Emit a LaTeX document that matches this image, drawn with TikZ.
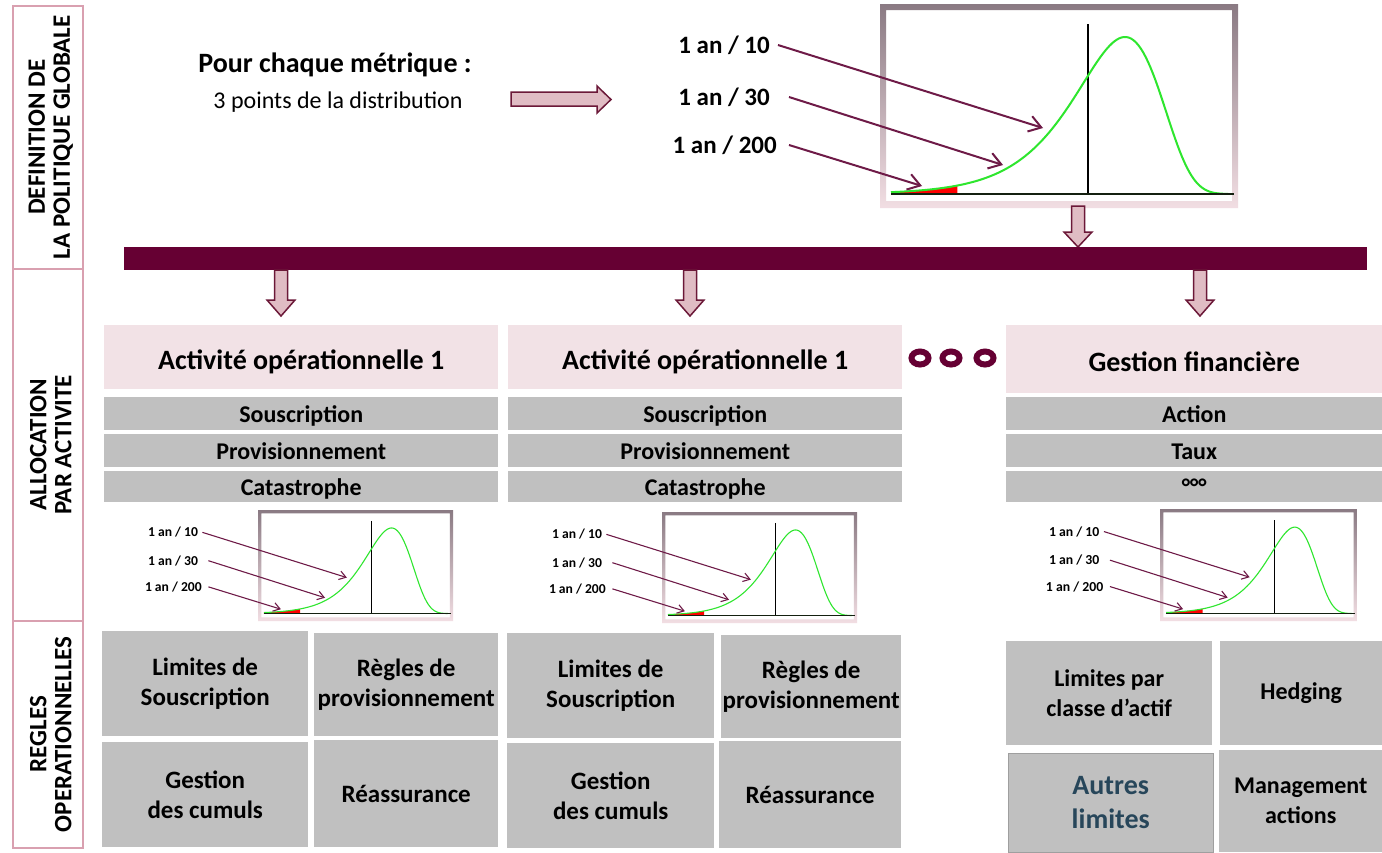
\documentclass[tikz,border=0pt]{standalone}
\usepackage{fontspec}
\setmainfont{Carlito}
\usetikzlibrary{arrows.meta}
\definecolor{maroon}{HTML}{660033}
\definecolor{arrowfill}{HTML}{E0BCC4}
\definecolor{arrowline}{HTML}{6B1838}
\definecolor{hdrfill}{HTML}{F2E2E6}
\definecolor{graybox}{HTML}{C0C0C0}
\definecolor{sideline}{HTML}{D9A0B0}
\definecolor{curvegreen}{HTML}{2EE62E}
\definecolor{frametop}{HTML}{8A7A83}
\definecolor{framebot}{HTML}{F2DEE3}
\definecolor{connline}{HTML}{6E1A47}
\definecolor{autres}{HTML}{27465A}
\definecolor{axiscol}{HTML}{142010}

\tikzset{
  blockarrow/.style={fill=arrowfill, draw=arrowline, line width=1.5pt, line join=miter},
  hdr/.style={fill=hdrfill, anchor=north west, inner sep=0, align=center, text height=24pt, text depth=0pt, font=\bfseries\fontsize{28}{33}\selectfont},
  rowbox/.style={fill=graybox, anchor=north west, inner sep=0, text height=19pt, text depth=1pt, font=\bfseries\fontsize{24}{28}\selectfont},
  rulebox/.style={fill=graybox, anchor=north west, inner sep=0, align=center, font=\bfseries\fontsize{25}{30}\selectfont},
  sidebox/.style={draw=sideline, line width=1.5pt, anchor=north west, inner sep=0},
  sidetext/.style={rotate=90, align=center, font=\bfseries\fontsize{25}{25}\selectfont},
  lab/.style={font=\bfseries\fontsize{25}{30}\selectfont, inner ysep=1, anchor=east},
  ring/.style={draw=maroon, line width=6pt},
}

\newcommand\distchart[4]{%
  \begin{scope}[shift={(#2,#3)}, scale=#4, transform shape]
    \shade[top color=frametop, bottom color=framebot, even odd rule]
      (0,0) rectangle (358,204) (6,6) rectangle (352,197);
    \fill[red] plot[domain=-5.442:-3.9, samples=25] ({245+43*\x},{190-157*exp(\x-exp(\x)+1)})
      -- (77.3,190) -- (11,190) -- cycle;
    \draw[black, line width=#4*1.8pt] (208,20) -- (208,190);
    \draw[curvegreen, line width=#4*2pt] plot[domain=-5.442:2.4, samples=140]
      ({245+43*\x},{190-157*exp(\x-exp(\x)+1)});
    \draw[axiscol, line width=#4*2.2pt] (11,190) -- (354,190);
    \node[lab, inner xsep=8] (#1a) at (-102,41) {1 an / 10};
    \node[lab, inner xsep=19] (#1b) at (-91,93) {1 an / 30};
    \node[lab, inner xsep=12] (#1c) at (-91,141) {1 an / 200};
    \coordinate (#1ta) at (163,124);
    \coordinate (#1tb) at (123,161);
    \coordinate (#1tc) at (42,182);
    \draw[connline, line width=#4*2pt, -{Straight Barb[length=12pt,width=16pt,scale=#4]}] (#1a.east) -- (#1ta);
    \draw[connline, line width=#4*2pt, -{Straight Barb[length=12pt,width=16pt,scale=#4]}] (#1b.east) -- (#1tb);
    \draw[connline, line width=#4*2pt, -{Straight Barb[length=12pt,width=16pt,scale=#4]}] (#1c.east) -- (#1tc);
  \end{scope}}

\newcommand\downblock[4]{% cx, ytop, yhead, ytip
  \filldraw[blockarrow] ({#1-6.5},#2) -- ({#1+6.5},#2) -- ({#1+6.5},#3) -- ({#1+14},#3)
    -- (#1,#4) -- ({#1-14},#3) -- ({#1-6.5},#3) -- cycle;}

\begin{document}
\begin{tikzpicture}[x=1pt, y=-1pt]
  \fill[white] (0,0) rectangle (1382,852);
  \useasboundingbox (0,0) rectangle (1382,852);

  % side column
  \node[sidebox, minimum width=70, minimum height=263] (s1) at (12,5) {};
  \node[sidebox, minimum width=70, minimum height=352] (s2) at (12,268) {};
  \node[sidebox, minimum width=70, minimum height=227] (s3) at (12,620) {};
  \node[sidetext] (t1) at ([xshift=3]s1.center) {DEFINITION DE\\LA POLITIQUE GLOBALE};
  \node[sidetext] (t2) at ([xshift=3]s2.center) {ALLOCATION\\PAR ACTIVITE};
  \node[sidetext] (t3) at ([xshift=3]s3.center) {REGLES\\OPERATIONNELLES};

  % top
  \node[font=\bfseries\fontsize{28}{33}\selectfont] (pour) at (335,65) {Pour chaque métrique :};
  \node[font=\fontsize{24}{28}\selectfont] (pts) at (338,102) {3 points de la distribution};
  \filldraw[blockarrow] (511,92) -- (597,92) -- (597,86) -- (611,99.5) -- (597,113) -- (597,106) -- (511,106) -- cycle;

  \distchart{big}{880}{4}{1}

  \downblock{1078}{206}{232}{247}

  % bar
  \node[fill=maroon, anchor=north west, inner sep=0, minimum width=1243, minimum height=23] (bar) at (124,247) {};
  \downblock{281}{270}{300}{316}
  \downblock{690}{270}{300}{316}
  \downblock{1200}{270}{300}{316}

  % headers
  \node[hdr, minimum width=394, minimum height=64] (h1) at (104,325) {Activité opérationnelle 1};
  \node[hdr, minimum width=394, minimum height=64] (h2) at (508,325) {Activité opérationnelle 1};
  \node[hdr, minimum width=376, minimum height=68] (h3) at (1006,325) {Gestion financière};

  \draw[ring] (920,358) ellipse [x radius=8.5, y radius=6.5];
  \draw[ring] (951,358) ellipse [x radius=8.5, y radius=6.5];
  \draw[ring] (985,358) ellipse [x radius=8.5, y radius=6.5];

  % rows
  \node[rowbox, minimum width=394, minimum height=33] (r11) at (104,397) {Souscription};
  \node[rowbox, minimum width=394, minimum height=33] (r12) at (104,434) {Provisionnement};
  \node[rowbox, minimum width=394, minimum height=31] (r13) at (104,471) {Catastrophe};
  \node[rowbox, minimum width=394, minimum height=33] (r21) at (508,397) {Souscription};
  \node[rowbox, minimum width=394, minimum height=33] (r22) at (508,434) {Provisionnement};
  \node[rowbox, minimum width=394, minimum height=31] (r23) at (508,471) {Catastrophe};
  \node[rowbox, minimum width=376, minimum height=33] (r31) at (1006,397) {Action};
  \node[rowbox, minimum width=376, minimum height=33] (r32) at (1006,434) {Taux};
  \node[rowbox, minimum width=376, minimum height=31] (r33) at (1006,471) {°°°};

  % small charts
  \distchart{ca}{258}{510}{0.545}
  \distchart{cb}{662}{512}{0.545}
  \distchart{cc}{1160}{509}{0.55}

  % rules group 1
  \node[rulebox, minimum width=206, minimum height=105] (g1a) at (102,631) {Limites de\\Souscription};
  \node[rulebox, minimum width=184, minimum height=103] (g1b) at (314,633) {Règles de\\provisionnement};
  \node[rulebox, minimum width=206, minimum height=105] (g1c) at (102,742) {Gestion\\des cumuls};
  \node[rulebox, minimum width=184, minimum height=107] (g1d) at (314,740) {Réassurance};
  % rules group 2
  \node[rulebox, minimum width=207, minimum height=105] (g2a) at (507,633) {Limites de\\Souscription};
  \node[rulebox, minimum width=180, minimum height=103] (g2b) at (721,635) {Règles de\\provisionnement};
  \node[rulebox, minimum width=207, minimum height=105] (g2c) at (507,743) {Gestion\\des cumuls};
  \node[rulebox, minimum width=182, minimum height=107] (g2d) at (719,741) {Réassurance};
  % rules group 3
  \node[rulebox, font=\bfseries\fontsize{24}{30}\selectfont, minimum width=206, minimum height=104] (g3a) at (1006,641) {Limites par\\classe d’actif};
  \node[rulebox, font=\bfseries\fontsize{24}{30}\selectfont, minimum width=162, minimum height=104] (g3b) at (1220,641) {Hedging};
  \node[rulebox, draw=gray!75, line width=1.5pt, font=\bfseries\fontsize{28}{34}\selectfont, text=autres, minimum width=205, minimum height=99] (g3c) at (1007.5,752.5) {Autres\\limites};
  \node[rulebox, font=\bfseries\fontsize{24}{30}\selectfont, minimum width=163, minimum height=102] (g3d) at (1219,750) {Management\\actions};
\end{tikzpicture}
\end{document}
